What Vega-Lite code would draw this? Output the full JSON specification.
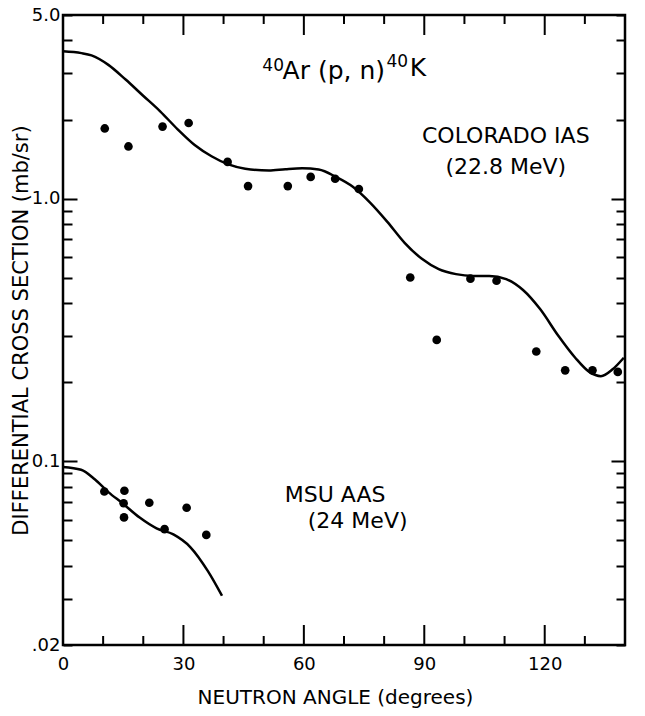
{
  "$schema": "https://vega.github.io/schema/vega-lite/v6.json",
  "width": 562,
  "height": 630,
  "autosize": "none",
  "padding": {"left": 63, "top": 15, "right": 20, "bottom": 71},
  "background": "white",
  "config": {
    "font": "DejaVu Sans",
    "view": {"stroke": "black", "strokeWidth": 2.5},
    "axis": {
      "domain": false,
      "ticks": false,
      "tickSize": 0,
      "gridColor": "black",
      "gridWidth": 2,
      "gridOpacity": 1,
      "labelColor": "black",
      "titleColor": "black",
      "labelFont": "DejaVu Sans",
      "titleFont": "DejaVu Sans",
      "labelFontSize": 18,
      "titleFontSize": 20,
      "titleFontWeight": "normal",
      "labelFlush": false,
      "labelOverlap": false
    }
  },
  "datasets": {
    "curves": [
      {"series": "Colorado IAS", "angle": 0, "sigma": 3.64},
      {"series": "Colorado IAS", "angle": 4.6, "sigma": 3.58},
      {"series": "Colorado IAS", "angle": 7.1, "sigma": 3.51},
      {"series": "Colorado IAS", "angle": 11.3, "sigma": 3.23},
      {"series": "Colorado IAS", "angle": 15.6, "sigma": 2.84},
      {"series": "Colorado IAS", "angle": 19.9, "sigma": 2.47},
      {"series": "Colorado IAS", "angle": 24.2, "sigma": 2.15},
      {"series": "Colorado IAS", "angle": 28.5, "sigma": 1.84},
      {"series": "Colorado IAS", "angle": 32.8, "sigma": 1.6},
      {"series": "Colorado IAS", "angle": 37.0, "sigma": 1.45},
      {"series": "Colorado IAS", "angle": 41.2, "sigma": 1.35},
      {"series": "Colorado IAS", "angle": 45.4, "sigma": 1.3},
      {"series": "Colorado IAS", "angle": 51.3, "sigma": 1.28},
      {"series": "Colorado IAS", "angle": 55.4, "sigma": 1.295},
      {"series": "Colorado IAS", "angle": 59.6, "sigma": 1.305},
      {"series": "Colorado IAS", "angle": 63.7, "sigma": 1.29},
      {"series": "Colorado IAS", "angle": 68.0, "sigma": 1.21},
      {"series": "Colorado IAS", "angle": 72.2, "sigma": 1.11},
      {"series": "Colorado IAS", "angle": 76.5, "sigma": 0.966},
      {"series": "Colorado IAS", "angle": 80.8, "sigma": 0.816},
      {"series": "Colorado IAS", "angle": 85.1, "sigma": 0.679},
      {"series": "Colorado IAS", "angle": 89.4, "sigma": 0.59},
      {"series": "Colorado IAS", "angle": 93.6, "sigma": 0.539},
      {"series": "Colorado IAS", "angle": 97.9, "sigma": 0.516},
      {"series": "Colorado IAS", "angle": 102.0, "sigma": 0.508},
      {"series": "Colorado IAS", "angle": 106.2, "sigma": 0.508},
      {"series": "Colorado IAS", "angle": 110.4, "sigma": 0.494},
      {"series": "Colorado IAS", "angle": 114.6, "sigma": 0.449},
      {"series": "Colorado IAS", "angle": 118.9, "sigma": 0.379},
      {"series": "Colorado IAS", "angle": 123.3, "sigma": 0.302},
      {"series": "Colorado IAS", "angle": 127.6, "sigma": 0.248},
      {"series": "Colorado IAS", "angle": 131.1, "sigma": 0.219},
      {"series": "Colorado IAS", "angle": 134.0, "sigma": 0.211},
      {"series": "Colorado IAS", "angle": 136.9, "sigma": 0.224},
      {"series": "Colorado IAS", "angle": 139.7, "sigma": 0.248},
      {"series": "MSU AAS", "angle": 0, "sigma": 0.0952},
      {"series": "MSU AAS", "angle": 4.5, "sigma": 0.0929},
      {"series": "MSU AAS", "angle": 7.9, "sigma": 0.0855},
      {"series": "MSU AAS", "angle": 11.3, "sigma": 0.0764},
      {"series": "MSU AAS", "angle": 14.8, "sigma": 0.0693},
      {"series": "MSU AAS", "angle": 19.1, "sigma": 0.0611},
      {"series": "MSU AAS", "angle": 23.3, "sigma": 0.0556},
      {"series": "MSU AAS", "angle": 27.5, "sigma": 0.0527},
      {"series": "MSU AAS", "angle": 31.7, "sigma": 0.0472},
      {"series": "MSU AAS", "angle": 36.1, "sigma": 0.0382},
      {"series": "MSU AAS", "angle": 39.6, "sigma": 0.0308}
    ],
    "measured": [
      {"series": "Colorado IAS", "angle": 10.4, "sigma": 1.85},
      {"series": "Colorado IAS", "angle": 16.3, "sigma": 1.58},
      {"series": "Colorado IAS", "angle": 24.8, "sigma": 1.88},
      {"series": "Colorado IAS", "angle": 31.3, "sigma": 1.94},
      {"series": "Colorado IAS", "angle": 41.0, "sigma": 1.38},
      {"series": "Colorado IAS", "angle": 46.1, "sigma": 1.116},
      {"series": "Colorado IAS", "angle": 56.0, "sigma": 1.116},
      {"series": "Colorado IAS", "angle": 61.7, "sigma": 1.21},
      {"series": "Colorado IAS", "angle": 67.8, "sigma": 1.19},
      {"series": "Colorado IAS", "angle": 73.7, "sigma": 1.088},
      {"series": "Colorado IAS", "angle": 86.5, "sigma": 0.501},
      {"series": "Colorado IAS", "angle": 93.1, "sigma": 0.29},
      {"series": "Colorado IAS", "angle": 101.5, "sigma": 0.496},
      {"series": "Colorado IAS", "angle": 108.0, "sigma": 0.487},
      {"series": "Colorado IAS", "angle": 117.9, "sigma": 0.262},
      {"series": "Colorado IAS", "angle": 125.1, "sigma": 0.222},
      {"series": "Colorado IAS", "angle": 131.9, "sigma": 0.222},
      {"series": "Colorado IAS", "angle": 138.2, "sigma": 0.219},
      {"series": "MSU AAS", "angle": 10.3, "sigma": 0.0768},
      {"series": "MSU AAS", "angle": 15.3, "sigma": 0.0773},
      {"series": "MSU AAS", "angle": 15.1, "sigma": 0.0693},
      {"series": "MSU AAS", "angle": 15.2, "sigma": 0.0612},
      {"series": "MSU AAS", "angle": 21.5, "sigma": 0.0696},
      {"series": "MSU AAS", "angle": 25.3, "sigma": 0.0552},
      {"series": "MSU AAS", "angle": 30.8, "sigma": 0.0666},
      {"series": "MSU AAS", "angle": 35.7, "sigma": 0.0525}
    ],
    "angleTicks": [
      {"angle": 10, "kind": "minor"},
      {"angle": 20, "kind": "minor"},
      {"angle": 30, "kind": "major"},
      {"angle": 40, "kind": "minor"},
      {"angle": 50, "kind": "minor"},
      {"angle": 60, "kind": "major"},
      {"angle": 70, "kind": "minor"},
      {"angle": 80, "kind": "minor"},
      {"angle": 90, "kind": "major"},
      {"angle": 100, "kind": "minor"},
      {"angle": 110, "kind": "minor"},
      {"angle": 120, "kind": "major"},
      {"angle": 130, "kind": "minor"}
    ],
    "captions": [
      {"text": "COLORADO IAS", "angle": 110.3, "sigma": 1.729},
      {"text": "(22.8 MeV)", "angle": 110.3, "sigma": 1.323},
      {"text": "MSU AAS", "angle": 67.8, "sigma": 0.0744},
      {"text": "(24 MeV)", "angle": 73.4, "sigma": 0.0592}
    ],
    "reaction": [
      {"part": "mass", "text": "40", "angle": 49.65, "sigma": 3.074},
      {"part": "symbol", "text": "Ar (p, n)", "angle": 54.7, "sigma": 2.842},
      {"part": "mass", "text": "40", "angle": 80.6, "sigma": 3.18},
      {"part": "symbol", "text": "K", "angle": 86.4, "sigma": 2.94}
    ]
  },
  "layer": [
    {
      "data": {"name": "curves"},
      "mark": {"type": "line", "interpolate": "monotone", "color": "black", "strokeWidth": 2.5},
      "encoding": {
        "x": {
          "field": "angle",
          "type": "quantitative",
          "scale": {"domain": [0, 140], "nice": false, "zero": false},
          "axis": {
            "orient": "bottom",
            "values": [0, 30, 60, 90, 120],
            "grid": false,
            "labelPadding": 10,
            "title": "NEUTRON ANGLE (degrees)",
            "titleX": 272,
            "titleY": 52,
            "titleAlign": "center",
            "titleBaseline": "middle"
          }
        },
        "y": {
          "field": "sigma",
          "type": "quantitative",
          "scale": {"type": "log", "domain": [0.02, 5], "nice": false},
          "axis": {
            "orient": "left",
            "values": [0.02, 0.03, 0.04, 0.05, 0.06, 0.07, 0.08, 0.09, 0.1, 0.2, 0.3, 0.4, 0.5, 0.6, 0.7, 0.8, 0.9, 1, 2, 3, 4, 5],
            "grid": true,
            "gridDash": {"condition": {"test": "datum.value === 1 || datum.value === 0.1", "value": [14, 534, 14]}, "value": [9, 544, 9]},
            "labelExpr": "datum.value === 5 ? '5.0' : datum.value === 1 ? '1.0' : datum.value === 0.1 ? '0.1' : datum.value === 0.02 ? '.02' : ''",
            "labelPadding": 3,
            "title": "DIFFERENTIAL CROSS SECTION (mb/sr)",
            "titleFontSize": 21,
            "titleAngle": -90,
            "titleX": -42,
            "titleY": 315,
            "titleAlign": "center",
            "titleBaseline": "middle"
          }
        },
        "detail": {"field": "series"}
      }
    },
    {
      "data": {"name": "angleTicks"},
      "transform": [{"filter": "datum.kind === 'major'"}],
      "mark": {"type": "rule", "color": "black", "strokeWidth": 2},
      "encoding": {
        "x": {"field": "angle", "type": "quantitative"},
        "y": {"datum": 0.02},
        "y2": {"datum": 0.02383}
      }
    },
    {
      "data": {"name": "angleTicks"},
      "transform": [{"filter": "datum.kind === 'minor'"}],
      "mark": {"type": "rule", "color": "black", "strokeWidth": 2},
      "encoding": {
        "x": {"field": "angle", "type": "quantitative"},
        "y": {"datum": 0.02},
        "y2": {"datum": 0.02164}
      }
    },
    {
      "data": {"name": "angleTicks"},
      "transform": [{"filter": "datum.kind === 'major'"}],
      "mark": {"type": "rule", "color": "black", "strokeWidth": 2},
      "encoding": {
        "x": {"field": "angle", "type": "quantitative"},
        "y": {"datum": 5},
        "y2": {"datum": 4.196}
      }
    },
    {
      "data": {"name": "angleTicks"},
      "transform": [{"filter": "datum.kind === 'minor'"}],
      "mark": {"type": "rule", "color": "black", "strokeWidth": 2},
      "encoding": {
        "x": {"field": "angle", "type": "quantitative"},
        "y": {"datum": 5},
        "y2": {"datum": 4.621}
      }
    },
    {
      "data": {"name": "measured"},
      "mark": {"type": "circle", "size": 75, "color": "black", "opacity": 1},
      "encoding": {
        "x": {"field": "angle", "type": "quantitative"},
        "y": {"field": "sigma", "type": "quantitative"}
      }
    },
    {
      "data": {"name": "captions"},
      "mark": {"type": "text", "font": "DejaVu Sans", "fontSize": 22, "align": "center", "baseline": "middle", "color": "black"},
      "encoding": {
        "x": {"field": "angle", "type": "quantitative"},
        "y": {"field": "sigma", "type": "quantitative"},
        "text": {"field": "text"}
      }
    },
    {
      "data": {"name": "reaction"},
      "transform": [{"filter": "datum.part === 'symbol'"}],
      "mark": {"type": "text", "font": "DejaVu Sans", "fontSize": 25, "align": "left", "baseline": "alphabetic", "color": "black"},
      "encoding": {
        "x": {"field": "angle", "type": "quantitative"},
        "y": {"field": "sigma", "type": "quantitative"},
        "text": {"field": "text"}
      }
    },
    {
      "data": {"name": "reaction"},
      "transform": [{"filter": "datum.part === 'mass'"}],
      "mark": {"type": "text", "font": "DejaVu Sans", "fontSize": 17, "align": "left", "baseline": "alphabetic", "color": "black"},
      "encoding": {
        "x": {"field": "angle", "type": "quantitative"},
        "y": {"field": "sigma", "type": "quantitative"},
        "text": {"field": "text"}
      }
    }
  ]
}
